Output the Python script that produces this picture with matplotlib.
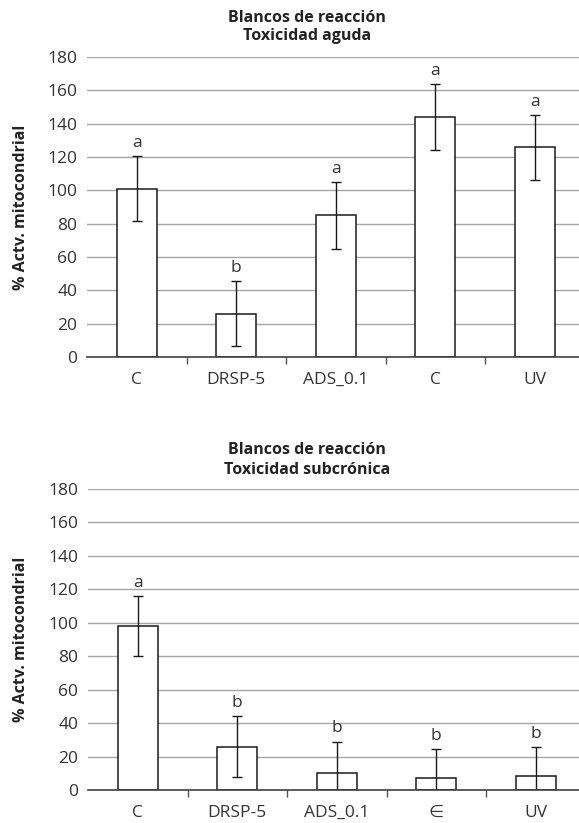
import matplotlib
matplotlib.use("Agg")
import matplotlib.pyplot as plt
import numpy as np

plt.rcParams['font.family'] = ['Open Sans', 'DejaVu Sans']

# datos
cats_aguda = ["C", "DRSP-5", "ADS_0.1", "C", "UV"]
vals_aguda = [101, 26, 85, 144, 126]
err_aguda = [19.5, 19.5, 20, 20, 19.5]
letras_aguda = ["a", "b", "a", "a", "a"]

cats_sub = ["C", "DRSP-5", "ADS_0.1", "\u2208", "UV"]
vals_sub = [98, 26, 10, 7, 8.5]
err_sub = [18, 18.5, 19, 17.5, 17]
letras_sub = ["a", "b", "b", "b", "b"]

titulo_aguda = "Blancos de reacción\nToxicidad aguda"
titulo_sub = "Blancos de reacción\nToxicidad subcrónica"
ylab = "% Actv. mitocondrial"

W, H = 579, 823
fig = plt.figure(figsize=(W / 100, H / 100), dpi=100)


def panel(left, top_px, bot_px, cats, vals, errs, letras, titulo, title_y, ylab_x):
    ax = fig.add_axes([left / W, 1 - bot_px / H, 1 - left / W, (bot_px - top_px) / H])
    x = np.arange(len(cats))
    ax.set_ylim(0, 180)
    ax.set_xlim(-0.5, -0.5 + (W - left) / 99.5)
    ax.set_yticks(np.arange(0, 181, 20))
    for yv in np.arange(20, 181, 20):
        ax.axhline(yv, color='#a6a6a6', lw=1.0, zorder=0)
    ax.bar(x, vals, width=0.4, color='white', edgecolor='#1a1a1a', lw=1.1, zorder=2)
    ax.errorbar(x, vals, yerr=errs, fmt='none', ecolor='#1a1a1a', elinewidth=1.0,
                capsize=3.5, capthick=1.0, zorder=3)
    for xi, v, e, l in zip(x, vals, errs, letras):
        ax.text(xi, v + e + 3, l, ha='center', va='bottom', fontsize=12.5, color='#333333')
    for s in ['left', 'right', 'top']:
        ax.spines[s].set_visible(False)
    ax.spines['bottom'].set_color('#404040')
    ax.spines['bottom'].set_linewidth(1.2)
    ax.spines['bottom'].set_zorder(4)
    ax.set_xticks(x)
    ax.set_xticklabels(cats, fontsize=12.5, color='#333333')
    ax.tick_params(axis='x', which='major', length=0, pad=11)
    ax.set_xticks(np.arange(0.5, len(cats) - 0.5, 1), minor=True)
    ax.tick_params(axis='x', which='minor', length=5, width=1, color='#555555', direction='out')
    ax.tick_params(axis='y', length=0, pad=7, labelsize=12.5, labelcolor='#333333')
    fig.text(307 / W, 1 - title_y / H, titulo, ha='center', va='center', fontsize=11.5,
             fontweight='bold', color='#222222', linespacing=1.25)
    fig.text(ylab_x / W, 1 - (top_px + bot_px) / 2 / H, ylab, rotation=90, ha='center',
             va='center', fontsize=11.5, fontweight='bold', color='#222222')
    return ax


panel(87, 57, 357, cats_aguda, vals_aguda, err_aguda, letras_aguda, titulo_aguda, 27, 21)
panel(88, 489, 790, cats_sub, vals_sub, err_sub, letras_sub, titulo_sub, 460, 21)

fig.savefig("out.png", dpi=100)
